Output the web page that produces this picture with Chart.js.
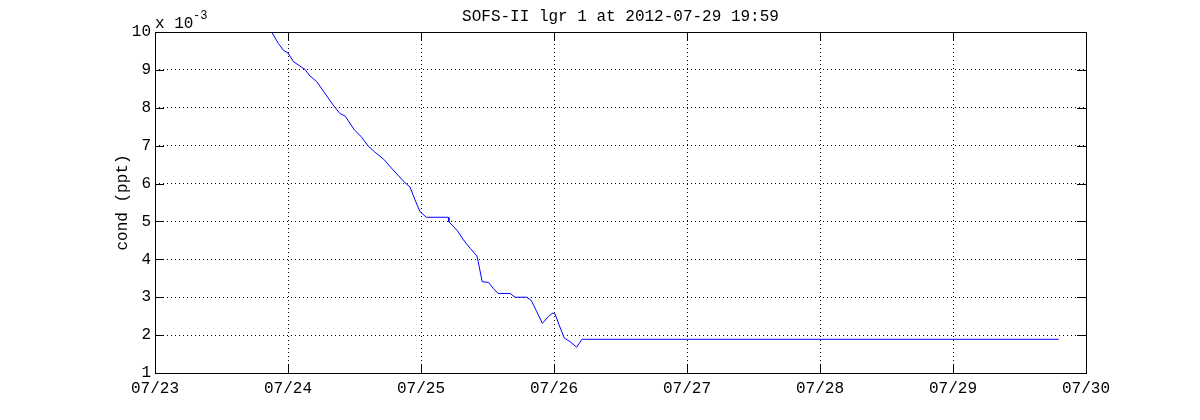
<!DOCTYPE html>
<html>
<head>
<meta charset="utf-8">
<script src="https://cdn.jsdelivr.net/npm/chart.js@4.4.0/dist/chart.umd.min.js"></script>
<style>
  html, body { margin: 0; padding: 0; background: #fff; }
  #wrap { width: 1200px; height: 420px; position: relative; }
</style>
</head>
<body>
<div id="wrap"><canvas id="chart"></canvas></div>
<script>
// time in fractional day-of-month (July 2012), cond in units of 1e-3 ppt
const dayOfMonth = [
  23.877, 23.927, 23.965, 24.002, 24.04, 24.128, 24.165, 24.216, 24.34, 24.39,
  24.43, 24.50, 24.55, 24.60, 24.65, 24.72, 24.79, 24.88, 24.917, 24.955,
  24.992, 25.04, 25.205, 25.21, 25.27, 25.32, 25.37, 25.42, 25.43, 25.46,
  25.507, 25.544, 25.58, 25.67, 25.707, 25.795, 25.83, 25.87, 25.913, 25.957,
  25.99, 26.008, 26.038, 26.078, 26.12, 26.17, 26.21, 29.795
];
const condE3 = [
  10.0, 9.70, 9.52, 9.44, 9.22, 9.01, 8.84, 8.69, 8.07, 7.85,
  7.78, 7.41, 7.24, 7.00, 6.84, 6.64, 6.36, 6.02, 5.91, 5.57,
  5.26, 5.11, 5.11, 4.99, 4.77, 4.51, 4.29, 4.09, 3.94, 3.41,
  3.39, 3.23, 3.10, 3.10, 3.00, 3.00, 2.91, 2.62, 2.31, 2.49,
  2.58, 2.56, 2.27, 1.92, 1.83, 1.68, 1.89, 1.89
];
const xTicks = [23, 24, 25, 26, 27, 28, 29, 30];
const yTicks = [1, 2, 3, 4, 5, 6, 7, 8, 9, 10];
const titleText = 'SOFS-II lgr 1 at 2012-07-29 19:59';
const yLabel = 'cond (ppt)';

const FONT = '"Liberation Mono", "DejaVu Sans Mono", monospace';

// box, inward ticks and extra labels, matlab style
const matlabFrame = {
  id: 'matlabFrame',
  afterDraw(chart) {
    const { ctx, chartArea: a, scales } = chart;
    const tl = 9;
    ctx.save();
    ctx.strokeStyle = '#000';
    ctx.lineWidth = 1;
    ctx.beginPath();
    xTicks.forEach(v => {
      const px = Math.round(scales.x.getPixelForValue(v)) + 0.5;
      ctx.moveTo(px, a.bottom); ctx.lineTo(px, a.bottom - tl);
      ctx.moveTo(px, a.top); ctx.lineTo(px, a.top + tl);
    });
    yTicks.forEach(v => {
      const py = Math.round(scales.y.getPixelForValue(v)) + 0.5;
      ctx.moveTo(a.left, py); ctx.lineTo(a.left + tl, py);
      ctx.moveTo(a.right, py); ctx.lineTo(a.right - tl, py);
    });
    ctx.stroke();
    ctx.strokeRect(Math.round(a.left) + 0.5, Math.round(a.top) + 0.5,
      Math.round(a.right - a.left), Math.round(a.bottom - a.top));

    ctx.fillStyle = '#000';
    ctx.font = '16px ' + FONT;
    ctx.textAlign = 'center';
    ctx.textBaseline = 'alphabetic';
    ctx.fillText(titleText, (a.left + a.right) / 2, 21);

    ctx.textAlign = 'left';
    ctx.fillText('x 10', a.left, 27.5);
    ctx.font = '12px ' + FONT;
    ctx.fillText('-3', a.left + 38, 19);

    ctx.font = '16px ' + FONT;
    ctx.translate(127, (a.top + a.bottom) / 2);
    ctx.rotate(-Math.PI / 2);
    ctx.textAlign = 'center';
    ctx.fillText(yLabel, 0, 0);
    ctx.restore();
  }
};

new Chart(document.getElementById('chart'), {
  type: 'line',
  data: {
    datasets: [{
      data: dayOfMonth.map((d, i) => ({ x: d, y: condE3[i] })),
      borderColor: '#0000ff',
      borderWidth: 1,
      pointRadius: 0,
      tension: 0,
      fill: false
    }]
  },
  options: {
    responsive: true,
    maintainAspectRatio: false,
    animation: false,
    layout: { padding: { left: 0, right: 114, top: 32, bottom: 0 } },
    plugins: { legend: { display: false }, tooltip: { enabled: false } },
    scales: {
      x: {
        type: 'linear',
        min: 23,
        max: 30,
        afterBuildTicks: s => { s.ticks = xTicks.map(v => ({ value: v })); },
        afterFit: s => { s.height = 47; },
        ticks: {
          padding: 6,
          maxRotation: 0,
          color: '#000',
          font: { family: FONT, size: 16 },
          callback: v => '07/' + String(v).padStart(2, '0')
        },
        grid: { color: '#000', drawTicks: false, lineWidth: 1 },
        border: { display: false, dash: [1, 3] }
      },
      y: {
        min: 1,
        max: 10,
        afterBuildTicks: s => { s.ticks = yTicks.map(v => ({ value: v })); },
        afterFit: s => { s.width = 155; },
        ticks: {
          padding: 4,
          color: '#000',
          font: { family: FONT, size: 16 },
          callback: v => String(v)
        },
        grid: { color: '#000', drawTicks: false, lineWidth: 1 },
        border: { display: false, dash: [1, 3] }
      }
    }
  },
  plugins: [matlabFrame]
});
</script>
</body>
</html>
